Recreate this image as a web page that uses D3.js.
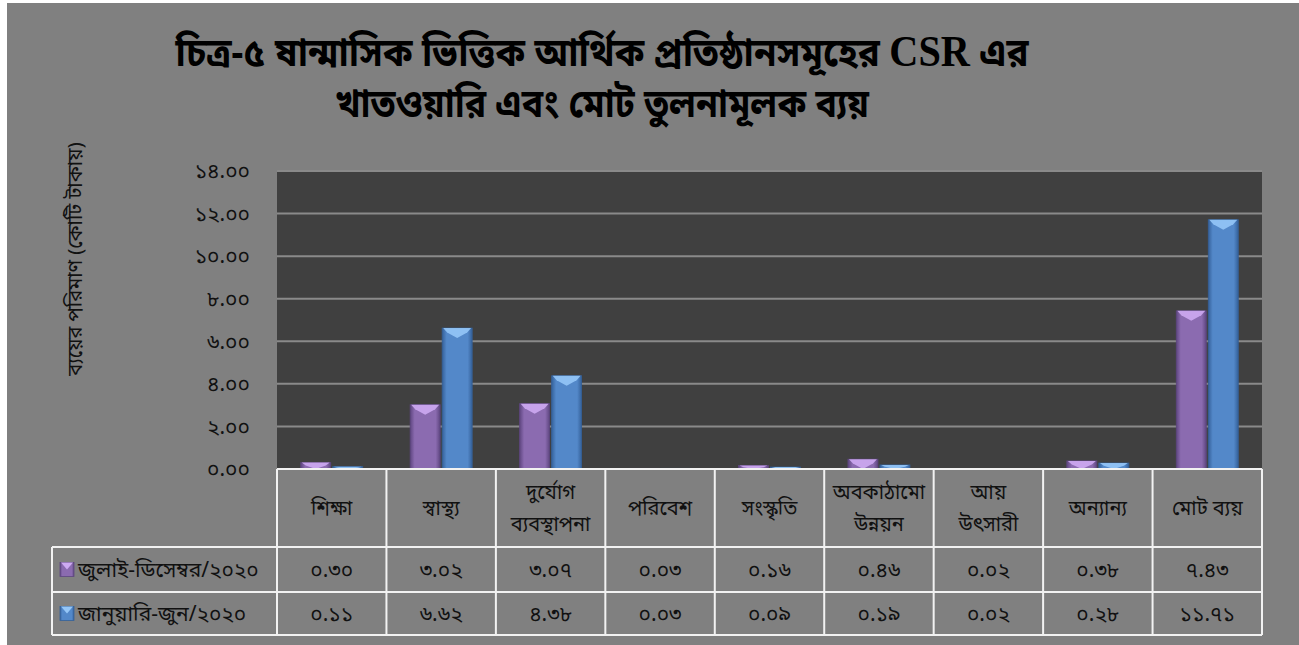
<!DOCTYPE html>
<html><head><meta charset="utf-8">
<script src="https://cdn.jsdelivr.net/npm/d3@7"></script>
<style>
html,body{margin:0;padding:0;background:#fff;}
svg{display:block;}
text{font-family:"Noto Sans Bengali","Lohit Bengali","Noto Serif Bengali","FreeSerif","Noto Sans",sans-serif;}
</style></head>
<body>
<svg id="chart" width="1299" height="645"></svg>
<script>
const categories = [["শিক্ষা"],["স্বাস্থ্য"],["দুর্যোগ","ব্যবস্থাপনা"],["পরিবেশ"],["সংস্কৃতি"],["অবকাঠামো","উন্নয়ন"],["আয়","উৎসারী"],["অন্যান্য"],["মোট ব্যয়"]];
const seriesNames = ["জুলাই-ডিসেম্বর/২০২০","জানুয়ারি-জুন/২০২০"];
const julDec = [0.30,3.02,3.07,0.03,0.16,0.46,0.02,0.38,7.43];
const janJun = [0.11,6.62,4.38,0.03,0.09,0.19,0.02,0.28,11.71];
const yTicks = [0,2,4,6,8,10,12,14];
const titleLines = [["চিত্র-৫ ষান্মাসিক ভিত্তিক আর্থিক প্রতিষ্ঠানসমূহের ","CSR"," এর"],["খাতওয়ারি এবং মোট তুলনামূলক ব্যয়"]];
const yLabel = "ব্যয়ের পরিমাণ (কোটি টাকায়)";

const bn = s => String(s).replace(/[0-9]/g, d => "০১২৩৪৫৬৭৮৯"[+d]);
const svg = d3.select("#chart");
svg.append("rect").attr("x",7).attr("y",3).attr("width",1292).attr("height",642).attr("fill","#808080");

const L=277,R=1262,T=171,B=469;
const x = d3.scaleBand().domain(d3.range(categories.length)).range([L,R]);
const y = d3.scaleLinear().domain([0,14]).range([B,T]);
const series = [julDec, janJun];
const bodyCol = ["#8b6bb0","#5388c9"], topCol=["#cdaaf2","#95c6f7"], edgeCol=["#5e4680","#35619a"];

const defs = svg.append("defs");
series.forEach((s,i)=>{
  const g = defs.append("linearGradient").attr("id","g"+i).attr("x1","0").attr("x2","1");
  g.append("stop").attr("offset","0").attr("stop-color",edgeCol[i]);
  g.append("stop").attr("offset","0.15").attr("stop-color",bodyCol[i]);
  g.append("stop").attr("offset","0.85").attr("stop-color",bodyCol[i]);
  g.append("stop").attr("offset","1").attr("stop-color",edgeCol[i]);
});

svg.append("rect").attr("x",L).attr("y",T).attr("width",R-L).attr("height",B-T).attr("fill","#404040");
svg.append("g").selectAll("line").data(yTicks.filter(t=>t>0)).join("line")
  .attr("x1",L).attr("x2",R).attr("y1",d=>y(d)).attr("y2",d=>y(d))
  .attr("stroke","#8a8a8a").attr("stroke-width",2);

// y axis labels
const yAxis = d3.axisLeft(y).tickValues(yTicks).tickFormat(d=>bn(d.toFixed(2))).tickSize(0).tickPadding(27);
const ya = svg.append("g").attr("transform",`translate(${L},0)`).call(yAxis);
ya.select(".domain").remove();
ya.selectAll("text").attr("font-size",21).attr("fill","#111").style("font-family",null);

svg.append("text").attr("transform","translate(82,259) rotate(-90)").attr("text-anchor","middle")
  .attr("font-size",20).attr("fill","#111").text(yLabel);

// bars
const bw = 30, gap = 2;
series.forEach((s,i)=>{
  const g = svg.append("g");
  s.forEach((v,j)=>{
    const cx = x(j)+x.bandwidth()/2;
    const x0 = i===0 ? cx-gap/2-bw : cx+gap/2;
    const y0 = y(v), h = B-y0;
    g.append("rect").attr("x",x0).attr("y",y0).attr("width",bw).attr("height",h)
      .attr("fill",`url(#g${i})`).attr("stroke",edgeCol[i]).attr("stroke-width",0.8);
    const d = Math.min(10,h);
    g.append("polygon").attr("points",`${x0+1},${y0} ${x0+bw-1},${y0} ${x0+bw-5},${y0+d*0.45} ${x0+bw/2},${y0+d} ${x0+5},${y0+d*0.45}`)
      .attr("fill",topCol[i]).attr("opacity",0.9);
  });
});

// table
const rowY = [B,547,592,635];
const tbl = svg.append("g").attr("stroke","#f2f2f2").attr("stroke-width",2).attr("fill","none");
tbl.append("line").attr("x1",L).attr("x2",R).attr("y1",B).attr("y2",B);
tbl.append("line").attr("x1",52).attr("x2",R).attr("y1",rowY[1]).attr("y2",rowY[1]);
tbl.append("line").attr("x1",52).attr("x2",R).attr("y1",rowY[2]).attr("y2",rowY[2]);
tbl.append("line").attr("x1",52).attr("x2",R).attr("y1",rowY[3]).attr("y2",rowY[3]);
tbl.append("line").attr("x1",52).attr("x2",52).attr("y1",rowY[1]).attr("y2",rowY[3]);
d3.range(categories.length+1).forEach(j=>{
  const xx = j<categories.length ? x(j) : R;
  tbl.append("line").attr("x1",xx).attr("x2",xx).attr("y1",B).attr("y2",rowY[3]);
});

const hdr = svg.append("g").attr("font-size",20).attr("fill","#111").attr("text-anchor","middle");
categories.forEach((c,j)=>{
  const cx = x(j)+x.bandwidth()/2, cy=(B+rowY[1])/2;
  c.forEach((line,k)=>{
    hdr.append("text").attr("x",cx).attr("y",cy+(k-(c.length-1)/2)*32).attr("dy","0.35em").text(line);
  });
});
series.forEach((s,i)=>{
  const cy = (rowY[i+1]+rowY[i+2])/2;
  const g = svg.append("g").attr("font-size",21).attr("fill","#111");
  s.forEach((v,j)=>{
    g.append("text").attr("x",x(j)+x.bandwidth()/2).attr("y",cy).attr("dy","0.35em").attr("text-anchor","middle").text(bn(v.toFixed(2)));
  });
  g.append("rect").attr("x",60).attr("y",cy-7).attr("width",14).attr("height",14).attr("fill",`url(#g${i})`).attr("stroke",edgeCol[i]).attr("stroke-width",0.8);
  g.append("polygon").attr("points",`${61},${cy-7} ${73},${cy-7} ${67},${cy}`).attr("fill",topCol[i]);
  g.append("text").attr("x",78).attr("y",cy).attr("dy","0.35em").attr("font-size",21).text(seriesNames[i]);
});

// title
const targets = [[602,66,855],[602,117,535]];
titleLines.forEach((parts,i)=>{
  const [cx,by,w] = targets[i];
  const tx = svg.append("text").attr("font-size",40).attr("font-weight","bold").attr("fill","#000")
    .attr("text-anchor","middle").attr("x",0).attr("y",0);
  parts.forEach(p=>{
    const ts = tx.append("tspan").text(p);
    if (p==="CSR") ts.style("font-family","'Liberation Serif','DejaVu Serif',serif").attr("font-size",44);
  });
  const bb = tx.node().getBBox();
  const sx = w/bb.width;
  tx.attr("transform",`translate(${cx},${by}) scale(${sx},1)`);
});
</script>
</body></html>
